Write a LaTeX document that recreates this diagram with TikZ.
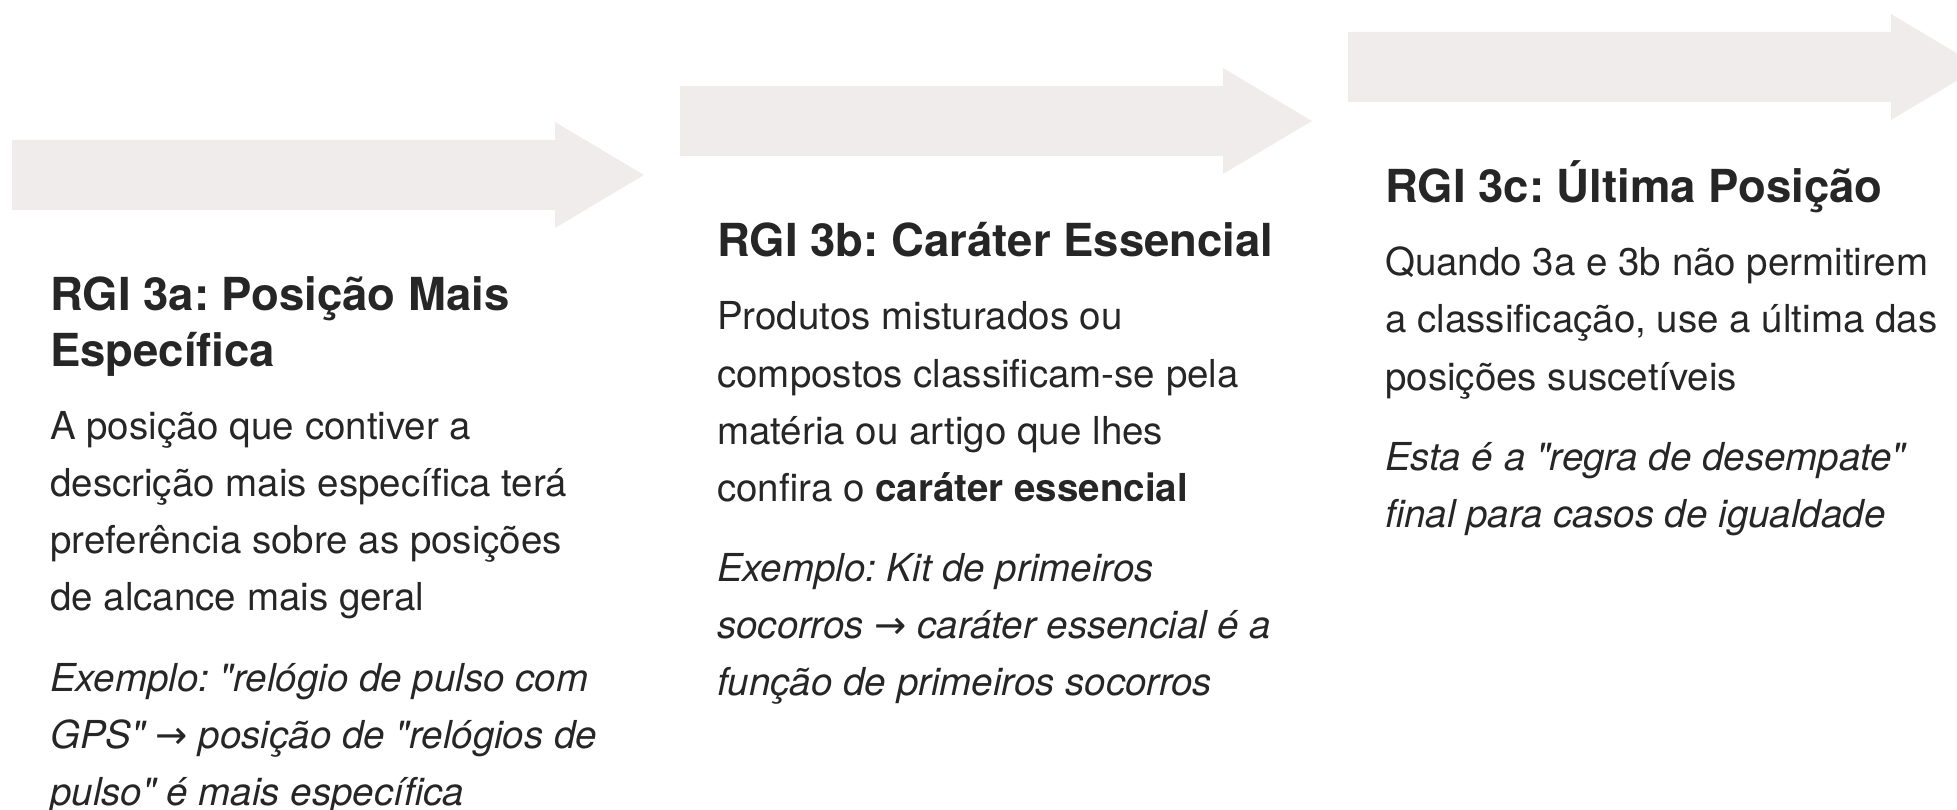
\documentclass[tikz,border=0pt]{standalone}
\usepackage{fontspec}
\setmainfont{TeX Gyre Heros}
\newfontfamily\arrfont{DejaVu Sans}
\definecolor{arrowfill}{HTML}{F0ECEB}
\definecolor{ink}{HTML}{262626}
\frenchspacing
\newcommand\stagearrow[3]{%
  \fill[arrowfill] ({#1},{#2-35}) -- ({#1+543},{#2-35}) -- ({#1+543},{#2-53})
    -- ({#1+632},{#2}) coordinate (#3) -- ({#1+543},{#2+53}) -- ({#1+543},{#2+35})
    -- ({#1},{#2+35}) -- cycle;}
\newcommand\rarr{{\arrfont\itshape →}}
\newcommand\q{\textquotedbl}
\begin{document}
\begin{tikzpicture}[x=1pt,y=-1pt,
  line/.style={anchor=base west, inner sep=0pt, text=ink},
  ttl/.style={line, font=\fontsize{45.5}{52}\selectfont\bfseries},
  bdy/.style={line, font=\fontsize{38.5}{44}\selectfont},
  exm/.style={line, font=\fontsize{38.5}{44}\selectfont\itshape}]
\useasboundingbox (0,0) rectangle (1957,810);
\clip (0,0) rectangle (1957,810);
\stagearrow{12}{175}{tipA}
\stagearrow{680}{121}{tipB}
\stagearrow{1348}{67}{tipC}
% column 1
\node[ttl] (t1a) at (50,311) {RGI 3a: Posição Mais};
\node[ttl] (t1b) at (50,366) {Específica};
\node[bdy] (b1a) at (50,439) {A posição que contiver a};
\node[bdy] (b1b) at (50,496) {descrição mais específica terá};
\node[bdy] (b1c) at (50,553) {preferência sobre as posições};
\node[bdy] (b1d) at (50,610) {de alcance mais geral};
\node[exm] (e1a) at (50,691) {Exemplo: \q relógio de pulso com};
\node[exm] (e1b) at (50,748) {GPS\q\ \rarr\ posição de \q relógios de};
\node[exm] (e1c) at (50,805) {pulso\q\ é mais específica};
% column 2
\node[ttl] (t2a) at (717,257) {RGI 3b: Caráter Essencial};
\node[bdy] (b2a) at (717,330) {Produtos misturados ou};
\node[bdy] (b2b) at (717,387) {compostos classificam-se pela};
\node[bdy] (b2c) at (717,444) {matéria ou artigo que lhes};
\node[bdy] (b2d) at (717,501) {confira o \textbf{caráter essencial}};
\node[exm] (e2a) at (717,581) {Exemplo: Kit de primeiros};
\node[exm] (e2b) at (717,638) {socorros \rarr\ caráter essencial é a};
\node[exm] (e2c) at (717,695) {função de primeiros socorros};
% column 3
\node[ttl] (t3a) at (1385,203) {RGI 3c: Última Posição};
\node[bdy] (b3a) at (1385,276) {Quando 3a e 3b não permitirem};
\node[bdy] (b3b) at (1385,333) {a classificação, use a última das};
\node[bdy] (b3c) at (1385,390) {posições suscetíveis};
\node[exm] (e3a) at (1385,470) {Esta é a \q regra de desempate\q};
\node[exm] (e3b) at (1385,527) {final para casos de igualdade};
\end{tikzpicture}
\end{document}
